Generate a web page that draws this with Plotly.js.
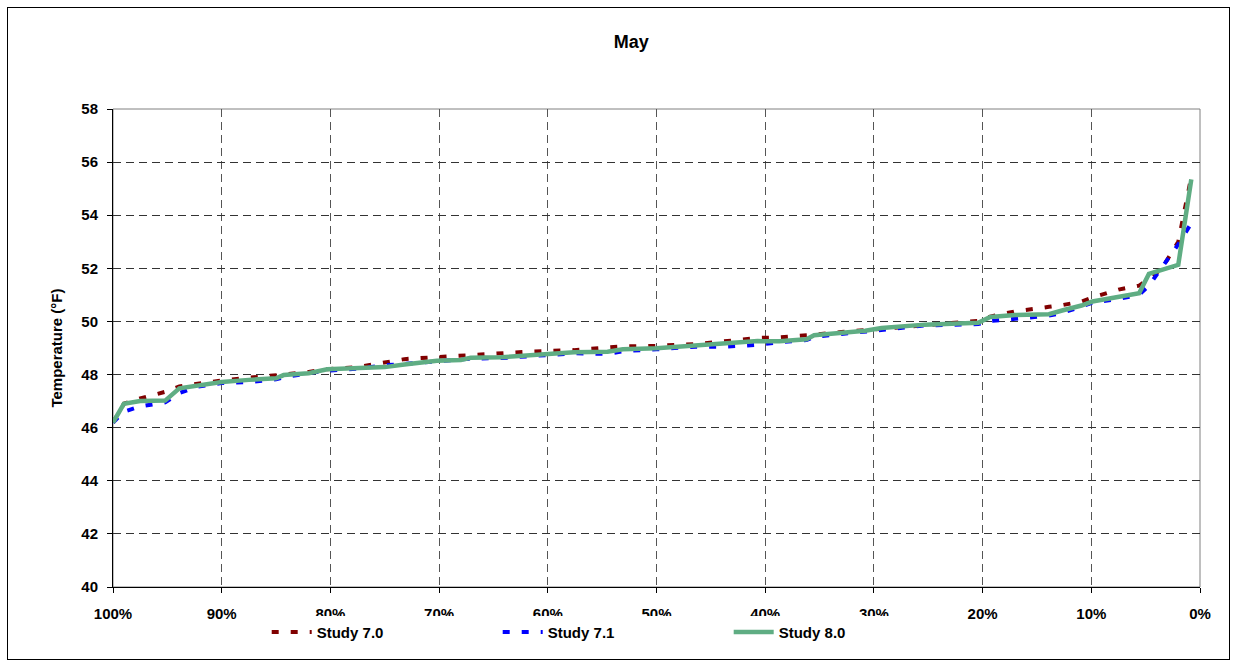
<!DOCTYPE html>
<html>
<head>
<meta charset="utf-8">
<script src="https://cdn.plot.ly/plotly-3.0.1.min.js"></script>
<style>
  html, body { margin: 0; padding: 0; background: #fff; }
  #frame { position: absolute; left: 7px; top: 7px; width: 1223px; height: 653px; border: 1px solid #000; box-sizing: border-box; pointer-events: none; z-index: 5; }
  #chart { width: 1238px; height: 668px; }
</style>
</head>
<body>
<div id="frame"></div>
<div id="chart"></div>
<script>
// Exceedance (%) and temperature (°F)
const exceedance = [100, 99, 97.5, 95.2, 93.9, 92.2, 90, 87.5, 85, 84.3, 82, 80.3, 77.5, 75, 73.2, 70.2, 68, 67.1, 64.3, 61.7, 57.6, 54.5, 53.1, 50, 46.4, 43.8, 40.7, 38.7, 36.2, 35.5, 33, 30.8, 29.3, 25.3, 20.4, 19.3, 17, 13.9, 12.6, 10.9, 9.9, 7.5, 5.6, 4.7, 3.5, 2.0, 0.8];

const study70 = [46.19, 46.9, 47.1, 47.35, 47.55, 47.65, 47.78, 47.88, 47.95, 48.0, 48.1, 48.2, 48.28, 48.45, 48.58, 48.66, 48.72, 48.75, 48.8, 48.86, 48.92, 49.02, 49.06, 49.08, 49.15, 49.25, 49.38, 49.4, 49.45, 49.5, 49.6, 49.67, 49.72, 49.88, 50.02, 50.18, 50.38, 50.55, 50.62, 50.75, 50.9, 51.2, 51.35, 51.6, 52.0, 53.0, 55.45];

const study71 = [46.19, 46.6, 46.8, 46.95, 47.3, 47.55, 47.68, 47.72, 47.82, 47.9, 48.05, 48.15, 48.22, 48.35, 48.4, 48.5, 48.55, 48.6, 48.62, 48.7, 48.8, 48.78, 48.88, 48.95, 49.05, 49.05, 49.12, 49.22, 49.3, 49.42, 49.52, 49.6, 49.66, 49.85, 49.9, 50.02, 50.1, 50.22, 50.33, 50.55, 50.7, 50.85, 51.0, 51.35, 52.05, 52.9, 53.7];

const study80 = [46.19, 46.9, 47.0, 47.02, 47.48, 47.6, 47.72, 47.8, 47.86, 47.98, 48.05, 48.2, 48.24, 48.28, 48.38, 48.52, 48.55, 48.63, 48.65, 48.74, 48.84, 48.86, 48.95, 48.99, 49.09, 49.18, 49.26, 49.25, 49.33, 49.48, 49.55, 49.65, 49.75, 49.88, 49.95, 50.17, 50.24, 50.27, 50.42, 50.6, 50.75, 50.92, 51.06, 51.79, 51.95, 52.13, 55.35];

const seriesNames = ["Study 7.0", "Study 7.1", "Study 8.0"];
const xTickVals = [100, 90, 80, 70, 60, 50, 40, 30, 20, 10, 0];
const xTickText = ["100%", "90%", "80%", "70%", "60%", "50%", "40%", "30%", "20%", "10%", "0%"];
const yTickVals = [40, 42, 44, 46, 48, 50, 52, 54, 56, 58];

const FONT = "Liberation Sans, Arial, sans-serif";

const traces = [
  { x: exceedance, y: study70, name: seriesNames[0], mode: "lines",
    line: { color: "#800000", width: 4, dash: "7px,12px" } },
  { x: exceedance, y: study71, name: seriesNames[1], mode: "lines",
    line: { color: "#0000FF", width: 4, dash: "7px,12px" } },
  { x: exceedance, y: study80, name: seriesNames[2], mode: "lines",
    line: { color: "#5FAD83", width: 4.5 } }
];

const layout = {
  width: 1238, height: 668,
  margin: { l: 113, r: 38, t: 109, b: 81 },
  paper_bgcolor: "#fff", plot_bgcolor: "#fff",
  font: { family: FONT, color: "#000", size: 15 },
  title: { text: "<b>May</b>", font: { family: FONT, size: 18, color: "#000" },
           x: 0.51, xref: "container", xanchor: "center", y: 0.937, yref: "container", yanchor: "middle" },
  showlegend: true,
  legend: { orientation: "h", x: 0.1414, xanchor: "left", y: -0.06, yanchor: "top",
            entrywidth: 176, entrywidthmode: "pixels",
            font: { family: FONT, size: 15, color: "#000", weight: "bold" },
            itemwidth: 40, tracegroupgap: 0 },
  xaxis: {
    range: [100, 0], tickvals: xTickVals, ticktext: xTickText,
    showgrid: true, gridcolor: "#555", griddash: "8px,5px", gridwidth: 1,
    showline: true, linecolor: "#000", linewidth: 1,
    ticks: "outside", ticklen: 5, tickcolor: "#000", ticklabelstandoff: 8,
    tickfont: { family: FONT, size: 15, color: "#000", weight: "bold" },
    zeroline: false, fixedrange: true
  },
  yaxis: {
    range: [40, 58], tickvals: yTickVals,
    showgrid: true, gridcolor: "#333", griddash: "8px,5px", gridwidth: 1,
    showline: true, linecolor: "#000", linewidth: 1,
    ticks: "outside", ticklen: 5, tickcolor: "#000", ticklabelstandoff: 6,
    tickfont: { family: FONT, size: 15, color: "#000", weight: "bold" },
    title: { text: "<b>Temperature (°F)</b>", font: { family: FONT, size: 15, color: "#000" }, standoff: 15 },
    zeroline: false, fixedrange: true
  },
  shapes: [
    { type: "rect", xref: "paper", yref: "paper", x0: 0, x1: 1, y0: 0, y1: 1,
      line: { color: "#808080", width: 1 }, layer: "below" }
  ]
};

Plotly.newPlot("chart", traces, layout, { displayModeBar: false, staticPlot: true });
</script>
</body>
</html>
